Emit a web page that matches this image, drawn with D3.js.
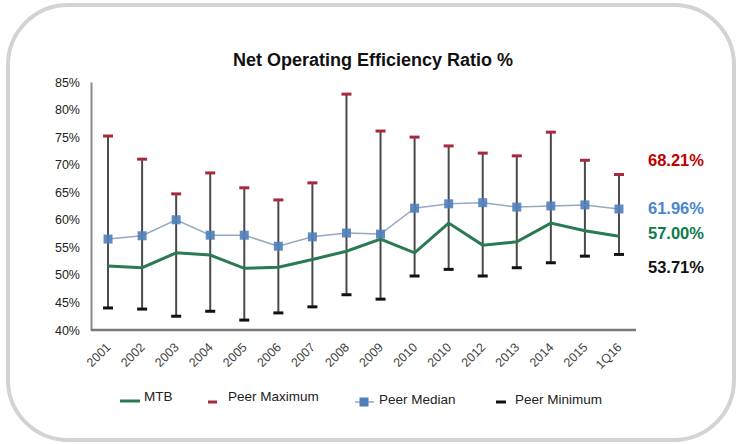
<!DOCTYPE html>
<html>
<head>
<meta charset="utf-8">
<script src="https://cdn.jsdelivr.net/npm/d3@7/dist/d3.min.js"></script>
<style>
  html, body { margin: 0; padding: 0; background: #fff; }
  svg { display: block; font-family: "Liberation Sans", Arial, sans-serif; }
</style>
</head>
<body>
<svg id="chart" width="737" height="444"></svg>
<script>
// Period labels along the x axis
const periods = ["2001","2002","2003","2004","2005","2006","2007","2008","2009","2010","2010","2012","2013","2014","2015","1Q16"];
// Net operating efficiency ratio (%) per period
const mtb        = [51.6, 51.3, 54.0, 53.6, 51.2, 51.4, 52.8, 54.3, 56.5, 54.0, 59.4, 55.4, 56.0, 59.4, 58.0, 57.00];
const peerMax    = [75.2, 71.0, 64.7, 68.5, 65.8, 63.6, 66.7, 82.8, 76.1, 75.0, 73.4, 72.1, 71.6, 75.9, 70.8, 68.21];
const peerMedian = [56.5, 57.1, 60.0, 57.2, 57.2, 55.2, 56.9, 57.6, 57.4, 62.1, 62.9, 63.1, 62.3, 62.5, 62.7, 61.96];
const peerMin    = [44.0, 43.8, 42.5, 43.4, 41.8, 43.1, 44.2, 46.4, 45.6, 49.8, 51.0, 49.8, 51.3, 52.2, 53.4, 53.71];
const yTicks = [40, 45, 50, 55, 60, 65, 70, 75, 80, 85];

const svg = d3.select("#chart");

// Rounded card frame
svg.append("rect")
  .attr("x", 8).attr("y", 5).attr("width", 726).attr("height", 435)
  .attr("rx", 60).attr("ry", 60)
  .attr("fill", "#fff").attr("stroke", "#d3d3d3").attr("stroke-width", 4);

const plotLeft = 91, plotRight = 636, plotTop = 82, plotBottom = 330;

const x = d3.scalePoint().domain(d3.range(periods.length)).range([plotLeft, plotRight]).padding(0.5);
const y = d3.scaleLinear().domain([40, 85]).range([plotBottom, plotTop]);

// Title
svg.append("text")
  .attr("x", 373).attr("y", 66)
  .attr("text-anchor", "middle")
  .attr("font-size", 18).attr("font-weight", "bold").attr("fill", "#111")
  .text("Net Operating Efficiency Ratio %");

// Y axis
const yAxis = svg.append("g").attr("transform", `translate(${plotLeft},0)`)
  .call(d3.axisLeft(y).tickValues(yTicks).tickFormat(d => d + "%").tickSize(0).tickPadding(11));
yAxis.select(".domain").attr("stroke", "#8a8a8a").attr("stroke-width", 2);
yAxis.selectAll("text").attr("font-size", 12.5).attr("fill", "#222")
  .attr("font-family", "Liberation Sans, Arial, sans-serif");

// X axis
const xAxis = svg.append("g").attr("transform", `translate(0,${plotBottom})`)
  .call(d3.axisBottom(x).tickFormat(i => periods[i]).tickSize(0).tickPadding(0));
xAxis.select(".domain").attr("stroke", "#7a7a7a").attr("stroke-width", 2.5)
  .attr("d", `M${plotLeft},0H${plotRight}`);
xAxis.selectAll("text")
  .attr("font-size", 12.5).attr("fill", "#444")
  .attr("font-family", "Liberation Sans, Arial, sans-serif")
  .attr("text-anchor", "end")
  .attr("dy", "0")
  .attr("transform", "translate(3,18) rotate(-45)");

const idx = d3.range(periods.length);

// High-low bars
svg.append("g").selectAll("line").data(idx).join("line")
  .attr("x1", i => x(i)).attr("x2", i => x(i))
  .attr("y1", i => y(peerMax[i])).attr("y2", i => y(peerMin[i]))
  .attr("stroke", "#4a4a4a").attr("stroke-width", 2);

// Peer maximum caps
svg.append("g").selectAll("line").data(idx).join("line")
  .attr("x1", i => x(i) - 5).attr("x2", i => x(i) + 5)
  .attr("y1", i => y(peerMax[i])).attr("y2", i => y(peerMax[i]))
  .attr("stroke", "#a8283f").attr("stroke-width", 3);

// Peer minimum caps
svg.append("g").selectAll("line").data(idx).join("line")
  .attr("x1", i => x(i) - 5).attr("x2", i => x(i) + 5)
  .attr("y1", i => y(peerMin[i])).attr("y2", i => y(peerMin[i]))
  .attr("stroke", "#111").attr("stroke-width", 3);

// MTB line
svg.append("path").datum(idx)
  .attr("d", d3.line().x(i => x(i)).y(i => y(mtb[i])))
  .attr("fill", "none").attr("stroke", "#2a7a52").attr("stroke-width", 3);

// Peer median line with square markers
svg.append("path").datum(idx)
  .attr("d", d3.line().x(i => x(i)).y(i => y(peerMedian[i])))
  .attr("fill", "none").attr("stroke", "#94a9c2").attr("stroke-width", 1.5);
svg.append("g").selectAll("rect").data(idx).join("rect")
  .attr("x", i => x(i) - 4.5).attr("y", i => y(peerMedian[i]) - 4.5)
  .attr("width", 9).attr("height", 9)
  .attr("fill", "#4f7fba").attr("opacity", 0.9);

// Latest-period value labels
const latest = periods.length - 1;
const endLabels = [
  { v: peerMax[latest], color: "#c00000", yPos: 166 },
  { v: peerMedian[latest], color: "#4a86d0", yPos: 214 },
  { v: mtb[latest], color: "#0e7a4a", yPos: 239 },
  { v: peerMin[latest], color: "#111", yPos: 273 }
];
svg.append("g").selectAll("text").data(endLabels).join("text")
  .attr("x", 648).attr("y", d => d.yPos)
  .attr("font-size", 16.5).attr("font-weight", "bold")
  .attr("fill", d => d.color)
  .text(d => d.v.toFixed(2) + "%");

// Legend
const legend = svg.append("g").attr("font-size", 13.5).attr("fill", "#222");
const ly = 401;
legend.append("line").attr("x1", 120).attr("x2", 140).attr("y1", ly).attr("y2", ly)
  .attr("stroke", "#2a7a52").attr("stroke-width", 3);
legend.append("text").attr("x", 144).attr("y", ly).text("MTB");
legend.append("line").attr("x1", 208).attr("x2", 217).attr("y1", ly + 1).attr("y2", ly + 1)
  .attr("stroke", "#a8283f").attr("stroke-width", 3);
legend.append("text").attr("x", 228).attr("y", ly).text("Peer Maximum");
legend.append("line").attr("x1", 355).attr("x2", 374).attr("y1", ly + 1).attr("y2", ly + 1)
  .attr("stroke", "#94a9c2").attr("stroke-width", 1.5);
legend.append("rect").attr("x", 359.5).attr("y", ly - 3.5).attr("width", 9).attr("height", 9)
  .attr("fill", "#4f7fba");
legend.append("text").attr("x", 379).attr("y", ly + 3).text("Peer Median");
legend.append("line").attr("x1", 496).attr("x2", 506).attr("y1", ly + 1).attr("y2", ly + 1)
  .attr("stroke", "#111").attr("stroke-width", 3);
legend.append("text").attr("x", 515).attr("y", ly + 3).text("Peer Minimum");
</script>
</body>
</html>
